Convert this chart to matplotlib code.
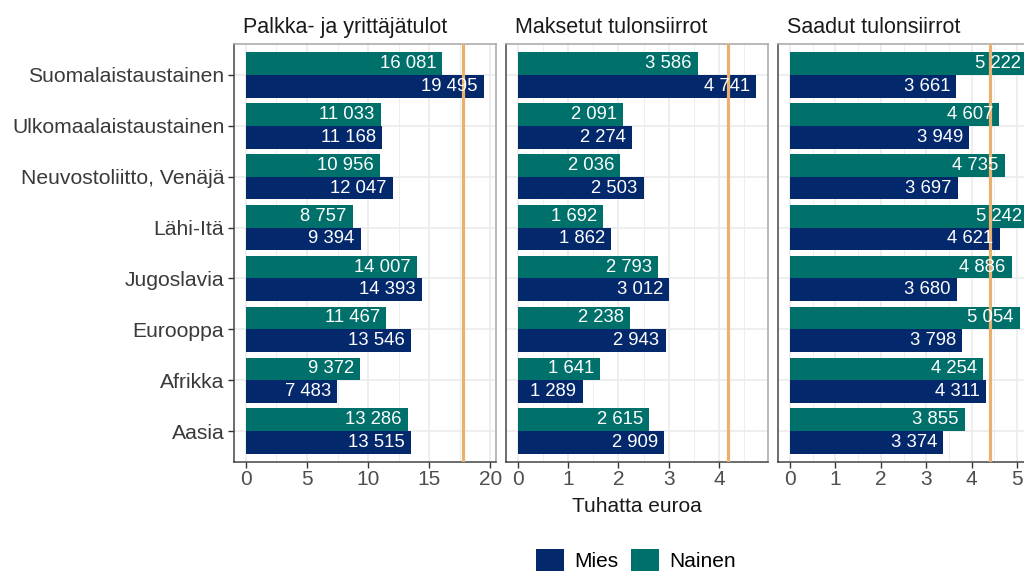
import numpy as np
import matplotlib
matplotlib.use("Agg")
from matplotlib import pyplot as plt
from matplotlib.patches import Patch
from matplotlib.ticker import MultipleLocator

plt.rcParams['font.family'] = ['Liberation Sans', 'DejaVu Sans']

categories = ["Suomalaistaustainen", "Ulkomaalaistaustainen", "Neuvostoliitto, Venäjä",
              "Lähi-Itä", "Jugoslavia", "Eurooppa", "Afrikka", "Aasia"]
panel_titles = ["Palkka- ja yrittäjätulot", "Maksetut tulonsiirrot", "Saadut tulonsiirrot"]

# euroa
palkka_nainen = [16081, 11033, 10956, 8757, 14007, 11467, 9372, 13286]
palkka_mies = [19495, 11168, 12047, 9394, 14393, 13546, 7483, 13515]
maksetut_nainen = [3586, 2091, 2036, 1692, 2793, 2238, 1641, 2615]
maksetut_mies = [4741, 2274, 2503, 1862, 3012, 2943, 1289, 2909]
saadut_nainen = [5222, 4607, 4735, 5242, 4886, 5054, 4254, 3855]
saadut_mies = [3661, 3949, 3697, 4621, 3680, 3798, 4311, 3374]

# koko vaeston keskiarvo (tuhatta euroa)
averages = [17.77, 4.19, 4.41]

nainen = [palkka_nainen, maksetut_nainen, saadut_nainen]
mies = [palkka_mies, maksetut_mies, saadut_mies]
major_steps = [5, 1, 1]

navy = "#03286c"
teal = "#00706b"
orange = "#e9b070"
grid_col = "#ebebeb"


def fmt(v):
    return f"{v:,}".replace(",", " ")


fig = plt.figure(figsize=(10.24, 5.75), dpi=100)

lefts = [234, 506, 778]
width_px = 262
top_px, bottom_px = 44, 462

y = np.arange(len(categories))
bar_h = 0.45

for i in range(3):
    ax = fig.add_axes([lefts[i] / 1024, (575 - bottom_px) / 575,
                       width_px / 1024, (bottom_px - top_px) / 575])
    n = np.array(nainen[i]) / 1000
    m = np.array(mies[i]) / 1000
    vmax = max(n.max(), m.max())

    ax.barh(y - bar_h / 2, n, height=bar_h, color=teal, zorder=2)
    ax.barh(y + bar_h / 2, m, height=bar_h, color=navy, zorder=2)
    ax.axvline(averages[i], color=orange, lw=2.3, zorder=3)

    for k in range(len(categories)):
        ax.annotate(fmt(nainen[i][k]), (n[k], y[k] - bar_h / 2), xytext=(-4.5, 0),
                    textcoords="offset points", ha="right", va="center",
                    color="white", fontsize=13.3, zorder=4)
        ax.annotate(fmt(mies[i][k]), (m[k], y[k] + bar_h / 2), xytext=(-4.5, 0),
                    textcoords="offset points", ha="right", va="center",
                    color="white", fontsize=13.3, zorder=4)

    ax.set_xlim(-0.05 * vmax, 1.05 * vmax)
    ax.set_ylim(len(categories) - 0.4, -0.6)
    ax.xaxis.set_major_locator(MultipleLocator(major_steps[i]))
    ax.xaxis.set_minor_locator(MultipleLocator(major_steps[i] / 2))
    ax.grid(which="major", color=grid_col, lw=1.2, zorder=0)
    ax.grid(which="minor", axis="x", color=grid_col, lw=0.6, zorder=0)
    ax.set_axisbelow(True)

    ax.set_yticks(y)
    if i == 0:
        ax.set_yticklabels(categories, fontsize=15.2, color="#3a3a3a")
        ax.tick_params(axis="y", length=4, width=1, color="#333333", pad=3)
    else:
        ax.set_yticklabels([])
        ax.tick_params(axis="y", length=0)
    ax.tick_params(axis="x", which="major", labelsize=15, labelcolor="#4d4d4d",
                   length=4, width=1, color="#333333", pad=2)
    ax.tick_params(axis="x", which="minor", length=0)

    for s in ["top", "right"]:
        ax.spines[s].set_color("#a6a6a6")
    for s in ["left", "bottom"]:
        ax.spines[s].set_color("#444444")
    for s in ax.spines.values():
        s.set_linewidth(1.1)

    # otsikko hieman sisennettyna kuten alkuperaisessa
    ax.annotate(panel_titles[i], (0, 1), xycoords="axes fraction", xytext=(6.5, 4.5),
                textcoords="offset points", ha="left", va="bottom",
                fontsize=15.5, color="#1a1a1a")

fig.text(0.622, 1 - 506 / 575, "Tuhatta euroa", ha="center", va="center",
         fontsize=15, color="#1a1a1a")

handles = [Patch(facecolor=navy, label="Mies"), Patch(facecolor=teal, label="Nainen")]
fig.legend(handles=handles, loc="center", bbox_to_anchor=(0.621, 0.026), ncol=2,
           frameon=False, fontsize=15, handlelength=1.35, handleheight=1.3,
           handletextpad=0.5, columnspacing=0.6)

fig.savefig("out.png", dpi=100)
